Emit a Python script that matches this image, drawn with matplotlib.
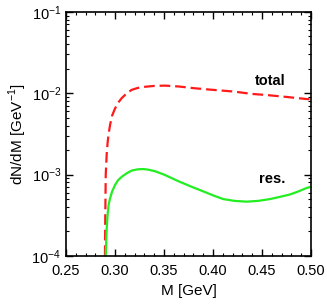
import numpy as np
import matplotlib
matplotlib.use("Agg")
import matplotlib.pyplot as plt
from matplotlib.ticker import MultipleLocator, LogLocator, NullFormatter

plt.rcParams['font.family'] = ['Liberation Sans', 'DejaVu Sans']
plt.rcParams['mathtext.fontset'] = 'custom'
plt.rcParams['mathtext.rm'] = 'Liberation Sans'

# ---- data ----
m_total = [0.2897, 0.2900, 0.2905, 0.2915, 0.2925, 0.2937, 0.2949, 0.2970, 0.3000, 0.3030,
           0.3068, 0.3120, 0.3170, 0.3230, 0.3306, 0.3400, 0.3510, 0.3650, 0.3816, 0.4000,
           0.4207, 0.4400, 0.4548, 0.4750, 0.4949, 0.5000]
dn_total = [1.0e-4, 2.8e-4, 9.9e-4, 1.8e-3, 2.54e-3, 3.3e-3, 4.07e-3, 5.3e-3, 6.5e-3, 7.6e-3,
            8.7e-3, 1.0e-2, 1.1e-2, 1.16e-2, 1.2e-2, 1.23e-2, 1.24e-2, 1.21e-2, 1.15e-2, 1.10e-2,
            1.05e-2, 9.8e-3, 9.5e-3, 9.0e-3, 8.5e-3, 8.4e-3]

m_res = [0.2905, 0.2910, 0.2915, 0.2925, 0.2935, 0.2949, 0.2970, 0.3000, 0.3030, 0.3068,
         0.3120, 0.3170, 0.3230, 0.3289, 0.3340, 0.3408, 0.3500, 0.3646, 0.3780, 0.3918,
         0.4010, 0.4105, 0.4220, 0.4344, 0.4460, 0.4582, 0.4690, 0.4786, 0.4870, 0.4949, 0.5000]
dn_res = [1.0e-4, 1.5e-4, 2.18e-4, 3.3e-4, 4.3e-4, 5.1e-4, 6.2e-4, 7.45e-4, 8.5e-4, 9.4e-4,
          1.04e-3, 1.12e-3, 1.16e-3, 1.17e-3, 1.15e-3, 1.10e-3, 1.0e-3, 8.3e-4, 7.1e-4, 6.1e-4,
          5.5e-4, 5.0e-4, 4.75e-4, 4.65e-4, 4.75e-4, 5.0e-4, 5.35e-4, 5.7e-4, 6.2e-4, 6.8e-4, 7.1e-4]

xticks = [0.25, 0.30, 0.35, 0.40, 0.45, 0.50]

fig = plt.figure(figsize=(3.27, 3.04), dpi=100)
ax = fig.add_axes([0.202, 0.158, 0.749, 0.803])

ax.plot(m_total, dn_total, color='#ff1a1a', ls=(0, (4.8, 2.2)), lw=1.6)
ax.plot(m_res, dn_res, color='#22ee22', lw=1.6)

ax.set_yscale('log')
ax.set_xlim(0.25, 0.50)
ax.set_ylim(1e-4, 1e-1)
ax.set_xticks(xticks)
ax.set_xticklabels([f"{t:.2f}" for t in xticks])
ax.xaxis.set_minor_locator(MultipleLocator(0.01))
ax.yaxis.set_minor_locator(LogLocator(base=10, subs=np.arange(2, 10)))
ax.yaxis.set_minor_formatter(NullFormatter())

ax.tick_params(which='both', direction='in', top=True, right=True, labelsize=10.5)
ax.tick_params(axis='x', which='major', pad=6)
ax.tick_params(which='major', length=5, width=1)
ax.tick_params(which='minor', length=2.5, width=0.8)
for s in ax.spines.values():
    s.set_linewidth(1.2)

ax.set_xlabel("M [GeV]", fontsize=11, labelpad=4)
ax.set_ylabel("dN/dM [GeV$^{-1}$]", fontsize=11, labelpad=2)

ax.text(0.4735, 1.42e-2, "total", ha='right', va='center', fontsize=10.5, fontweight='bold')
ax.text(0.4735, 8.8e-4, "res.", ha='right', va='center', fontsize=10.5, fontweight='bold')

fig.savefig("out.png", dpi=100)
